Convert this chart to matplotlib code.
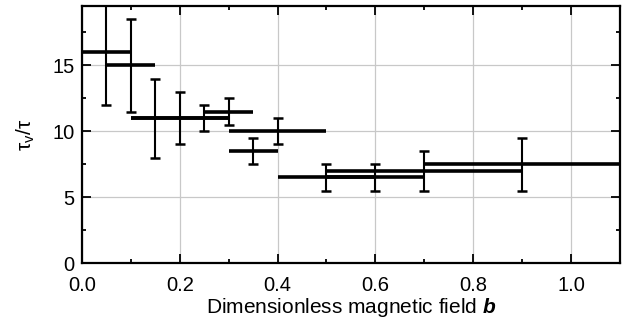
import matplotlib
matplotlib.use("Agg")
import matplotlib.pyplot as plt
from matplotlib.ticker import MultipleLocator, FormatStrFormatter

plt.rcParams['font.family'] = ['Liberation Sans', 'DejaVu Sans']
plt.rcParams['mathtext.fontset'] = 'custom'
plt.rcParams['mathtext.rm'] = 'Liberation Sans'
plt.rcParams['mathtext.it'] = 'Liberation Sans:italic'
plt.rcParams['mathtext.bf'] = 'Liberation Sans:bold:italic'

# data: field centre, half-width of field bin, tau_v/tau, error
b = [0.05, 0.10, 0.15, 0.20, 0.25, 0.30, 0.35, 0.40, 0.50, 0.60, 0.70, 0.90]
b_halfwidth = [0.05, 0.05, 0.05, 0.10, 0.05, 0.05, 0.05, 0.10, 0.10, 0.10, 0.20, 0.20]
tau_ratio = [16, 15, 11, 11, 11, 11.5, 8.5, 10, 6.5, 6.5, 7, 7.5]
tau_err = [4, 3.5, 3, 2, 1, 1, 1, 1, 1, 1, 1.5, 2]

fig = plt.figure(figsize=(6.28, 3.22), dpi=100)
ax = fig.add_axes([0.1306, 0.183, 0.8564, 0.798])

ax.errorbar(b, tau_ratio, xerr=b_halfwidth, fmt='none', ecolor='black',
            elinewidth=2.6, capsize=0, zorder=3)
ax.errorbar(b, tau_ratio, yerr=tau_err, fmt='none', ecolor='black',
            elinewidth=1.5, capsize=3.4, capthick=1.8, zorder=3)

ax.set_xlim(0, 1.1)
ax.set_ylim(0, 19.5)
ax.xaxis.set_major_locator(MultipleLocator(0.2))
ax.xaxis.set_minor_locator(MultipleLocator(0.1))
ax.yaxis.set_major_locator(MultipleLocator(5))
ax.yaxis.set_minor_locator(MultipleLocator(2.5))
ax.xaxis.set_major_formatter(FormatStrFormatter('%.1f'))

ax.grid(True, which='major', color='#c8c8c8', linewidth=0.9, zorder=0)
ax.set_axisbelow(True)

ax.tick_params(which='both', direction='in', top=True, right=True,
               labeltop=False, labelright=False, width=1.3, labelsize=14.5)
ax.tick_params(which='major', length=6.5)
ax.tick_params(which='minor', length=3.2)
ax.tick_params(axis='x', which='major', pad=9)
ax.tick_params(axis='y', which='major', pad=5.5)
for s in ax.spines.values():
    s.set_linewidth(1.6)

ax.set_xlabel(r'Dimensionless magnetic field $\mathbf{b}$', fontsize=15, labelpad=1)
ax.set_ylabel(r'$\mathrm{\tau_v/\tau}$', fontsize=15, labelpad=11)

fig.savefig('out.png', dpi=100)
